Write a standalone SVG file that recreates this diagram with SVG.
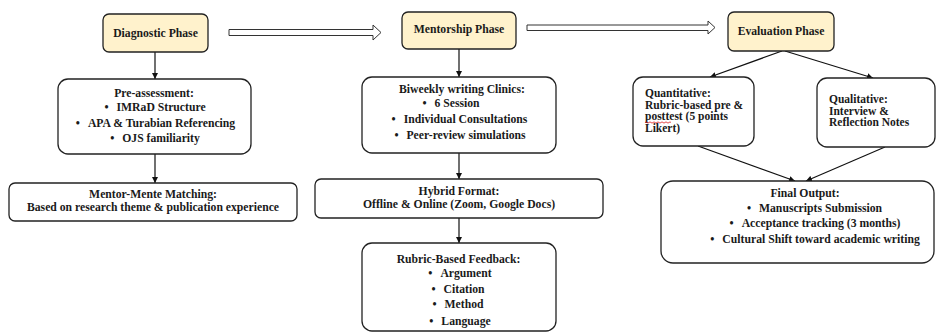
<svg xmlns="http://www.w3.org/2000/svg" width="936" height="335" viewBox="0 0 936 335">
<defs>
<marker id="ah" viewBox="0 0 10 10" refX="10" refY="5" markerWidth="6" markerHeight="6" markerUnits="userSpaceOnUse" orient="auto">
<path d="M0,0 L10,5 L0,10 z" fill="#111"/>
</marker>
<style>
.box{fill:#fff;stroke:#222;stroke-width:1.3}
.phase{fill:#FFF2CC;stroke:#222;stroke-width:1.3}
.t{font-family:"Liberation Serif","Times New Roman",serif;font-weight:bold;font-size:11.7px;fill:#1a1a1a;text-anchor:middle}
.l{font-family:"Liberation Serif","Times New Roman",serif;font-weight:bold;font-size:11.5px;fill:#1a1a1a}
.c{fill:none;stroke:#111;stroke-width:1.2;marker-end:url(#ah)}
.h{fill:#fff;stroke:#333;stroke-width:1}
</style>
</defs>
<rect width="936" height="335" fill="#fff"/>

<g id="connectors">
<polygon class="h" points="229,29.5 373,29.5 373,25 381,32.5 373,40 373,35.5 229,35.5"/>
<polygon class="h" points="527,25 708,25 708,21 715,27.5 708,34 708,30.5 527,30.5"/>
<line class="c" x1="155" y1="52" x2="155" y2="79"/>
<line class="c" x1="155" y1="154" x2="155" y2="183"/>
<line class="c" x1="459" y1="49" x2="459" y2="77"/>
<line class="c" x1="459" y1="153" x2="459" y2="179"/>
<line class="c" x1="459" y1="218" x2="459" y2="243"/>
<line class="c" x1="782" y1="51" x2="710" y2="77"/>
<line class="c" x1="785" y1="51" x2="873" y2="78"/>
<line class="c" x1="698" y1="146" x2="795" y2="181"/>
<line class="c" x1="885" y1="147" x2="806" y2="181"/>
</g>

<g id="diagnostic">
<rect class="phase" x="103" y="14" width="105" height="38" rx="6"/>
<text class="t" x="155.5" y="37">Diagnostic Phase</text>
</g>

<g id="mentorship">
<rect class="phase" x="402" y="12" width="114" height="37" rx="6"/>
<text class="t" x="459" y="33">Mentorship Phase</text>
</g>

<g id="evaluation">
<rect class="phase" x="728" y="12" width="106" height="39" rx="6"/>
<text class="t" x="781" y="35">Evaluation Phase</text>
</g>

<g id="pre-assessment">
<rect class="box" x="58" y="79" width="193" height="75" rx="10"/>
<text class="t" x="154" y="97">Pre-assessment:</text>
<text class="t" x="155" y="111">•<tspan dx="8">IMRaD Structure</tspan></text>
<text class="t" x="155.5" y="127">•<tspan dx="8">APA &amp; Turabian Referencing</tspan></text>
<text class="t" x="155" y="142">•<tspan dx="8">OJS familiarity</tspan></text>
</g>

<g id="matching">
<rect class="box" x="9" y="183" width="288" height="38" rx="6"/>
<text class="t" x="153" y="198">Mentor-Mente Matching:</text>
<text class="t" x="153" y="211">Based on research theme &amp; publication experience</text>
</g>

<g id="clinics">
<rect class="box" x="362" y="77" width="194" height="76" rx="10"/>
<text class="t" x="462" y="93">Biweekly writing Clinics:</text>
<text class="t" x="451" y="107">•<tspan dx="8">6 Session</tspan></text>
<text class="t" x="459.5" y="123">•<tspan dx="8">Individual Consultations</tspan></text>
<text class="t" x="460" y="139">•<tspan dx="8">Peer-review simulations</tspan></text>
</g>

<g id="hybrid">
<rect class="box" x="315" y="179" width="288" height="39" rx="6"/>
<text class="t" x="459" y="195">Hybrid Format:</text>
<text class="t" x="459" y="208">Offline &amp; Online (Zoom, Google Docs)</text>
</g>

<g id="rubric">
<rect class="box" x="362" y="243" width="194" height="88" rx="10"/>
<text class="t" x="458.5" y="263">Rubric-Based Feedback:</text>
<text class="t" x="460" y="277">•<tspan dx="8">Argument</tspan></text>
<text class="t" x="458" y="293">•<tspan dx="8">Citation</tspan></text>
<text class="t" x="458" y="308">•<tspan dx="8">Method</tspan></text>
<text class="t" x="460" y="325">•<tspan dx="8">Language</tspan></text>
</g>

<g id="quantitative">
<rect class="box" x="633" y="77" width="121" height="69" rx="10"/>
<text class="l" x="645" y="97">Quantitative:</text>
<text class="l" x="645" y="108.5">Rubric-based pre &amp;</text>
<text class="l" x="645" y="120">posttest (5 points</text>
<text class="l" x="645" y="131.5">Likert)</text>
<path d="M645,122.5 q1,-1.2 2,0 t2,0 t2,0 t2,0 t2,0 t2,0 t2,0 t2,0 t2,0 t2,0 t2,0 t2,0 t2,0" fill="none" stroke="#e02020" stroke-width="0.8"/>
</g>

<g id="qualitative">
<rect class="box" x="817" y="78" width="118" height="69" rx="10"/>
<text class="l" x="829" y="103">Qualitative:</text>
<text class="l" x="829" y="114.5">Interview &amp;</text>
<text class="l" x="829" y="126">Reflection Notes</text>
</g>

<g id="final">
<rect class="box" x="661" y="181" width="273" height="82" rx="12"/>
<text class="t" x="805" y="197">Final Output:</text>
<text class="t" x="814.5" y="212">•<tspan dx="8">Manuscripts Submission</tspan></text>
<text class="t" x="815" y="227">•<tspan dx="8">Acceptance tracking (3 months)</tspan></text>
<text class="t" x="815" y="243">•<tspan dx="8">Cultural Shift toward academic writing</tspan></text>
</g>
</svg>
